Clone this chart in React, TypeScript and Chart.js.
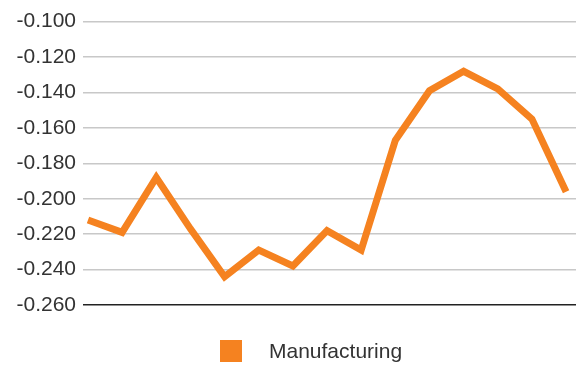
import React, { useEffect, useRef } from "react";
import { Chart, registerables } from "chart.js";

Chart.register(...registerables);

const periods = ["1", "2", "3", "4", "5", "6", "7", "8", "9", "10", "11", "12", "13", "14", "15"];
const manufacturing = [-0.212, -0.219, -0.188, -0.217, -0.244, -0.229, -0.238, -0.218, -0.229, -0.167, -0.139, -0.128, -0.138, -0.155, -0.196];
const seriesName = "Manufacturing";
const yMin = -0.26;
const yMax = -0.1;
const yStep = 0.02;

const FONT = "'Liberation Sans', Arial, Helvetica, sans-serif";
const ORANGE = "#f58220";

const legendPlugin = {
  id: "customLegend",
  afterDraw(chart: any) {
    const ctx = chart.ctx;
    const ds = chart.data.datasets[0];
    ctx.save();
    const boxX = chart.width / 2 - 68;
    const boxY = 340;
    ctx.fillStyle = ds.borderColor;
    ctx.fillRect(boxX, boxY, 22, 22);
    ctx.fillStyle = "#333333";
    ctx.font = `21px ${FONT}`;
    ctx.textBaseline = "middle";
    ctx.textAlign = "left";
    ctx.fillText(ds.label, boxX + 49, boxY + 12);
    ctx.restore();
  },
};

export default function App() {
  const ref = useRef<HTMLCanvasElement | null>(null);
  useEffect(() => {
    document.body.style.margin = "0";
    const chart = new Chart(ref.current!, {
      type: "line",
      data: {
        labels: periods,
        datasets: [
          {
            label: seriesName,
            data: manufacturing.map((v, i) => ({ x: i, y: v })),
            borderColor: ORANGE,
            backgroundColor: ORANGE,
            borderWidth: 7,
            borderJoinStyle: "miter",
            borderCapStyle: "butt",
            pointRadius: 0,
            tension: 0,
          },
        ],
      },
      options: {
        animation: false,
        responsive: false,
        maintainAspectRatio: false,
        layout: { padding: { top: 21.7, bottom: 62, left: 0, right: 0 } },
        plugins: { legend: { display: false }, tooltip: { enabled: false } },
        scales: {
          x: {
            type: "linear",
            min: -0.146,
            max: 14.29,
            display: false,
          },
          y: {
            min: yMin,
            max: yMax,
            ticks: {
              stepSize: yStep,
              padding: 7,
              color: "#333333",
              font: { family: FONT, size: 21 },
              callback: (v: any) => Number(v).toFixed(3),
            },
            border: { display: false },
            grid: {
              drawTicks: false,
              lineWidth: (c: any) => (c.index === 0 ? 1.6 : 1.4),
              color: (c: any) => (c.index === 0 ? "#222222" : "#c8c8c8"),
            },
            afterFit: (s: any) => {
              s.width = 83;
            },
          },
        },
      },
      plugins: [legendPlugin],
    });
    return () => chart.destroy();
  }, []);
  return (
    <div style={{ width: 576, height: 367 }}>
      <canvas ref={ref} width={576} height={367} style={{ width: 576, height: 367 }} />
    </div>
  );
}
